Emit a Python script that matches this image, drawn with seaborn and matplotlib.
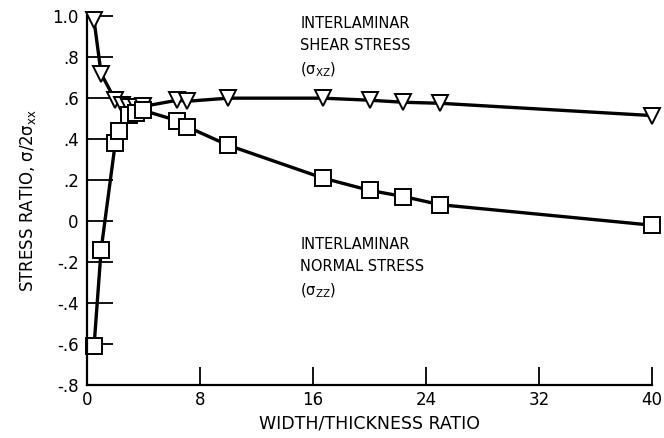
import matplotlib
matplotlib.use("Agg")
import matplotlib.pyplot as plt
import seaborn as sns
import pandas as pd

# === Data ===
shear_x = [0.5, 1.0, 2.0, 2.5, 3.0, 3.5, 4.0, 6.4, 7.1, 10.0, 16.7, 20.0, 22.4, 25.0, 40.0]
shear_y = [0.98, 0.72, 0.59, 0.565, 0.555, 0.555, 0.56, 0.59, 0.585, 0.60, 0.60, 0.59, 0.58, 0.575, 0.515]

normal_x = [0.5, 1.0, 2.0, 2.3, 3.0, 3.5, 4.0, 6.4, 7.1, 10.0, 16.7, 20.0, 22.4, 25.0, 40.0]
normal_y = [-0.61, -0.14, 0.38, 0.44, 0.52, 0.53, 0.54, 0.49, 0.46, 0.37, 0.21, 0.15, 0.12, 0.08, -0.02]

x_ticks = [0, 8, 16, 24, 32, 40]
y_ticks = [1.0, 0.8, 0.6, 0.4, 0.2, 0.0, -0.2, -0.4, -0.6, -0.8]
y_tick_labels = ["1.0", ".8", ".6", ".4", ".2", "0", "-.2", "-.4", "-.6", "-.8"]

shear = pd.DataFrame({"ratio": shear_x, "stress": shear_y})
normal = pd.DataFrame({"ratio": normal_x, "stress": normal_y})

# === Style ===
sns.set_style("ticks")
plt.rcParams["font.family"] = ["DejaVu Sans"]
plt.rcParams["mathtext.default"] = "regular"
plt.rcParams["text.color"] = "black"
plt.rcParams["axes.labelcolor"] = "black"
plt.rcParams["xtick.color"] = "black"
plt.rcParams["ytick.color"] = "black"
plt.rcParams["axes.edgecolor"] = "black"

fig = plt.figure(figsize=(6.64, 4.38), dpi=100)
ax = fig.add_axes([0.131, 0.121, 0.851, 0.842])

common = dict(color="black", linewidth=2.4, markersize=11.5,
              markerfacecolor="white", markeredgecolor="black",
              markeredgewidth=1.4, sort=False, ax=ax, clip_on=False)
sns.lineplot(data=shear, x="ratio", y="stress", marker="v", **common)
sns.lineplot(data=normal, x="ratio", y="stress", marker="s", **common)

ax.set_xlim(0, 40)
ax.set_ylim(-0.8, 1.0)
ax.set_xticks(x_ticks)
ax.set_yticks(y_ticks)
ax.set_yticklabels(y_tick_labels)

ax.tick_params(axis="x", direction="in", length=13, width=1.3, labelsize=12, pad=4)
ax.tick_params(axis="y", direction="in", length=19, width=1.3, labelsize=12, pad=6)
for side in ["left", "bottom"]:
    ax.spines[side].set_linewidth(1.6)
for side in ["top", "right"]:
    ax.spines[side].set_visible(False)

ax.set_xlabel("WIDTH/THICKNESS RATIO", fontsize=12.5, labelpad=4)
ax.set_ylabel("STRESS RATIO, σ/2σ$_{xx}$", fontsize=12, labelpad=10)

ax.text(15.1, 1.0, "INTERLAMINAR\nSHEAR STRESS\n(σ$_{XZ}$)",
        fontsize=10.5, va="top", ha="left", linespacing=1.55)
ax.text(15.1, -0.08, "INTERLAMINAR\nNORMAL STRESS\n(σ$_{ZZ}$)",
        fontsize=10.5, va="top", ha="left", linespacing=1.55)

fig.savefig("out.png", dpi=100)
